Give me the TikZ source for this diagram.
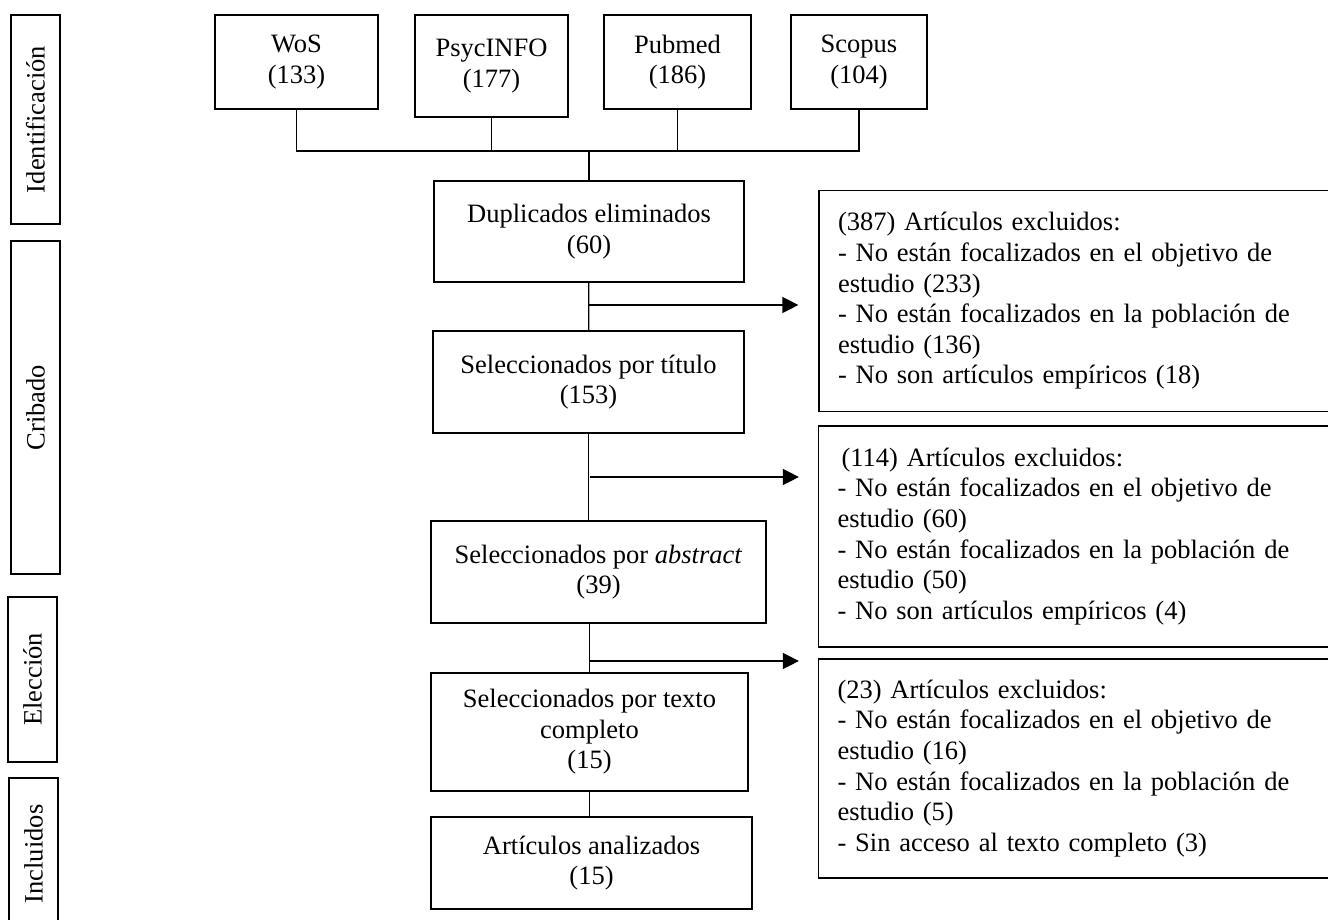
\documentclass[tikz,border=0pt]{standalone}
\usepackage{fontspec}
\setmainfont{Liberation Serif}
\usetikzlibrary{arrows.meta}

\begin{document}
\begin{tikzpicture}[x=1pt, y=-1pt, line width=1.2pt, >={Triangle[length=16pt, width=16pt]}]
	\tikzstyle{every node}=[draw, align=center, inner sep=0pt, font=\fontsize{26.5pt}{30.6pt}\selectfont]
	\tikzstyle{excl}=[align=left, text width=483pt, inner xsep=19pt, minimum height=221pt]
	\tikzstyle{phase}=[rotate=90, minimum height=49pt]
	\useasboundingbox (0, 0) rectangle (1328, 920);

	\node[phase, minimum width=209pt] (Ide) at (35.5, 119.5) {Identificación};
	\node[phase, minimum width=333pt] (Cri) at (35.5, 407.5) {Cribado};
	\node[phase, minimum width=165pt] (Ele) at (32.5, 679.5) {Elección};
	\node[phase, minimum width=152pt] (Inc) at (33.5, 854) {Incluidos};

	\node[minimum width=163pt, minimum height=94pt] (WoS) at (296.5, 62) {WoS\\(133)};
	\node[minimum width=153pt, minimum height=102pt] (Psyc) at (491.5, 66) {PsycINFO\\(177)};
	\node[minimum width=147pt, minimum height=94pt] (Pub) at (677.5, 62) {Pubmed\\(186)};
	\node[minimum width=136pt, minimum height=94pt] (Sco) at (859, 62) {Scopus\\(104)};
	\coordinate (Bus) at (589, 151);

	\node[minimum width=310pt, minimum height=101pt] (Dup) at (589, 231.5) {Duplicados eliminados\\(60)};
	\node[minimum width=311pt, minimum height=102pt] (Tit) at (588.5, 382) {Seleccionados por título\\(153)};
	\node[minimum width=335pt, minimum height=102pt] (Abs) at (598.5, 572) {Seleccionados por \textit{abstract}\\(39)};
	\node[minimum width=317pt, minimum height=118pt] (Tex) at (589.5, 732) {Seleccionados por texto\\completo\\(15)};
	\node[minimum width=321pt, minimum height=92pt] (Ana) at (591.5, 863) {Artículos analizados\\(15)};

	\node[excl] (E1) at (1079.5, 301) {(387) Artículos excluidos:\\- No están focalizados en el objetivo de\\estudio (233)\\- No están focalizados en la población de\\estudio (136)\\- No son artículos empíricos (18)};
	\node[excl] (E2) at (1079, 536.5) {\hspace*{4pt}(114) Artículos excluidos:\\- No están focalizados en el objetivo de\\estudio (60)\\- No están focalizados en la población de\\estudio (50)\\- No son artículos empíricos (4)};
	\node[excl, minimum height=219pt] (E3) at (1079, 768.5) {(23) Artículos excluidos:\\- No están focalizados en el objetivo de\\estudio (16)\\- No están focalizados en la población de\\estudio (5)\\- Sin acceso al texto completo (3)};

	\coordinate (A1) at (589, 305);
	\coordinate (A2) at (590, 477);
	\coordinate (A3) at (590, 661);

	\draw (WoS) |- (Bus) -| (Sco);
	\draw (Psyc) to (Psyc |- Bus);
	\draw (Pub) to (Pub |- Bus);
	\draw (Bus) to (Dup);
	\draw (Dup) to (Tit);
	\draw (Tit) to (Tit |- Abs.north);
	\draw (Tex |- Abs.south) to (Tex);
	\draw (Tex) to (Tex |- Ana.north);

	\draw[->, shorten >=20pt] (A1) to (A1 -| E1.west);
	\draw[->, shorten >=19pt] (A2) to (A2 -| E2.west);
	\draw[->, shorten >=19pt] (A3) to (A3 -| E3.west);
\end{tikzpicture}
\end{document}
